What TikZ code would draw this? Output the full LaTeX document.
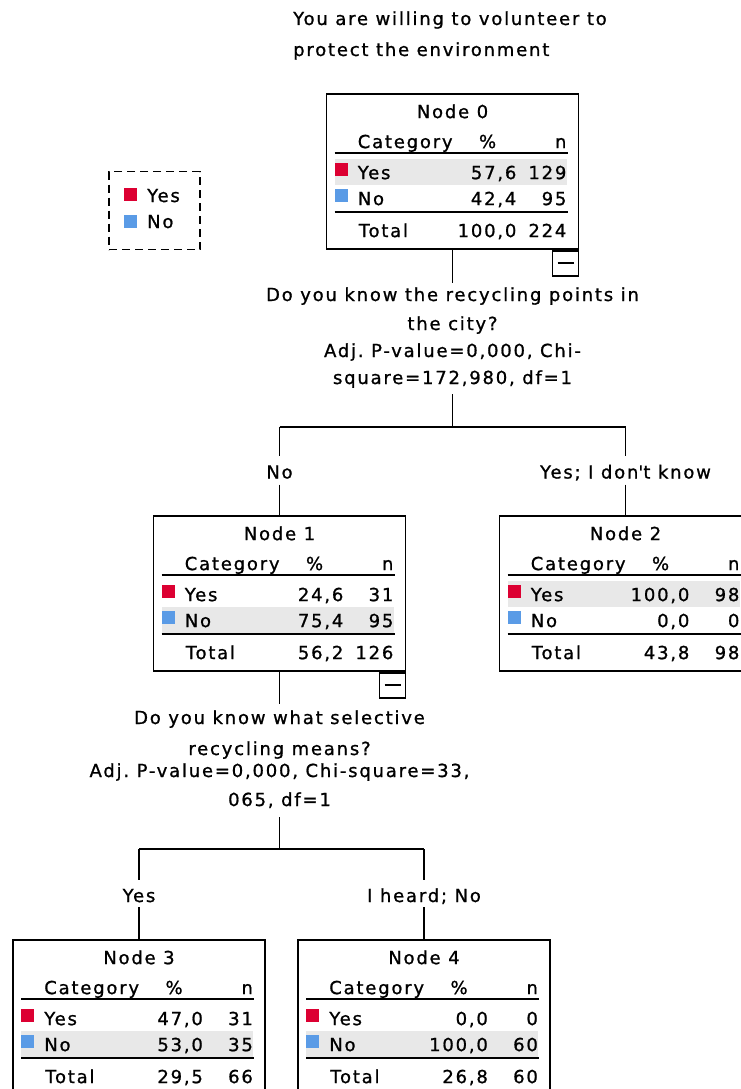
\documentclass[tikz,border=0pt]{standalone}
\usepackage{fontspec}
\setmainfont{DejaVu Sans}[LetterSpace=10,FakeBold=1]
\usetikzlibrary{calc}
\frenchspacing
\definecolor{spssred}{HTML}{DC0032}
\definecolor{spssblue}{HTML}{5A9BE6}
\definecolor{rowgray}{HTML}{E8E8E8}
\tikzset{
  txt/.style={inner sep=0pt, font=\fontsize{18}{21}\selectfont\frenchspacing},
  qtxt/.style={txt, text height=13pt, text depth=4pt, anchor=base},
  box/.style={draw, line width=1.8pt, minimum width=252pt, minimum height=155pt, inner sep=0pt},
  minusbox/.style={draw, line width=1.8pt, minimum width=26pt, minimum height=25pt, inner sep=0pt},
  legendbox/.style={draw, line width=1.8pt, dash pattern=on 8pt off 5pt, minimum width=91pt, minimum height=78pt, inner sep=0pt},
  rule/.style={line width=1.8pt},
  conn/.style={line width=1.8pt},
  sq/.style={inner sep=0pt, minimum size=13pt},
}
\newcommand\tnode[5]{%
  \node[box] (#1) at (#2,#3+77.5) {};
  \ifnum#5=1
    \fill[rowgray] ($(#1.north west)+(9,66)$) rectangle ($(#1.north west)+(241,92)$);
  \else
    \fill[rowgray] ($(#1.north west)+(9,92)$) rectangle ($(#1.north west)+(241,118)$);
  \fi
  \node[txt,anchor=base] (#1-title) at ($(#1.north)+(0,25)$) {#4};
  \node[txt,anchor=base west] (#1-cat) at ($(#1.north west)+(32,55)$) {Category};
  \node[txt,anchor=base] (#1-pct) at ($(#1.north west)+(162,55)$) {\%};
  \node[txt,anchor=base east] (#1-n) at ($(#1.north west)+(241,55)$) {n};
  \draw[rule] ($(#1.north west)+(9,60)$) -- ($(#1.north west)+(242,60)$);
  \draw[rule] ($(#1.north west)+(9,119)$) -- ($(#1.north west)+(242,119)$);
  \node[sq,fill=spssred,anchor=north west] (#1-rsq) at ($(#1.north west)+(9,70)$) {};
  \node[sq,fill=spssblue,anchor=north west] (#1-bsq) at ($(#1.north west)+(9,96)$) {};
  \node[txt,anchor=base west] (#1-yes) at ($(#1.north west)+(32,86)$) {Yes};
  \node[txt,anchor=base west] (#1-no) at ($(#1.north west)+(32,112)$) {No};
  \node[txt,anchor=base west] (#1-tot) at ($(#1.north west)+(33,144)$) {Total};
}
\newcommand\tvals[7]{%
  \node[txt,anchor=base east] (#1-yp) at ($(#1.north west)+(191,86)$) {#2};
  \node[txt,anchor=base east] (#1-yn) at ($(#1.north west)+(241,86)$) {#3};
  \node[txt,anchor=base east] (#1-np) at ($(#1.north west)+(191,112)$) {#4};
  \node[txt,anchor=base east] (#1-nn) at ($(#1.north west)+(241,112)$) {#5};
  \node[txt,anchor=base east] (#1-tp) at ($(#1.north west)+(191,144)$) {#6};
  \node[txt,anchor=base east] (#1-tn) at ($(#1.north west)+(241,144)$) {#7};
}
\newcommand\tminus[1]{%
  \node[minusbox,anchor=north east] (#1-mb) at (#1.south east) {};
  \draw[line width=1.8pt] ($(#1-mb.center)+(-8,0)$) -- ($(#1-mb.center)+(8,0)$);
}
\begin{document}
\begin{tikzpicture}[x=1pt,y=-1pt]
\useasboundingbox (0,0) rectangle (740,1089);
\fill[white] (0,0) rectangle (740,1089);

% title
\node[txt,anchor=base west] (t1) at (293,25) {You are willing to volunteer to};
\node[txt,anchor=base west] (t2) at (293,56) {protect the environment};

% legend
\node[legendbox] (lg) at (154.7,210.5) {};
\node[sq,fill=spssred,anchor=north west] (lgr) at (124,188) {};
\node[sq,fill=spssblue,anchor=north west] (lgb) at (124,215) {};
\node[txt,anchor=base west] (lgy) at (147,202) {Yes};
\node[txt,anchor=base west] (lgn) at (147,228) {No};

% nodes
\tnode{n0}{452.5}{94}{Node 0}{1}
\tvals{n0}{57,6}{129}{42,4}{95}{100,0}{224}
\tminus{n0}
\tnode{n1}{279.5}{516}{Node 1}{2}
\tvals{n1}{24,6}{31}{75,4}{95}{56,2}{126}
\tminus{n1}
\tnode{n2}{625.5}{516}{Node 2}{1}
\tvals{n2}{100,0}{98}{0,0}{0}{43,8}{98}
\tnode{n3}{139}{940}{Node 3}{2}
\tvals{n3}{47,0}{31}{53,0}{35}{29,5}{66}
\tnode{n4}{424}{940}{Node 4}{2}
\tvals{n4}{0,0}{0}{100,0}{60}{26,8}{60}

% split 1
\node[qtxt] (q1a) at (452.5,301) {Do you know the recycling points in};
\node[qtxt] (q1b) at (452.5,330) {the city?};
\node[qtxt] (q1c) at (452.5,357) {Adj. P-value=0,000, Chi-};
\node[qtxt] (q1d) at (452.5,384) {square=172,980, df=1};
\coordinate (j0) at (452.5,427);
\coordinate (jl) at (n1.north |- j0);
\coordinate (jr) at (n2.north |- j0);
\node[qtxt] (l1) at (279.5,478.5) {No};
\node[qtxt] (l2) at (625.5,478.5) {Yes; I don\textquotesingle t know};
\draw[conn, shorten >=5pt] (n0.south) -- (q1a.north);
\draw[conn, shorten <=6pt] (q1d.south) -- (j0);
\draw[conn] (jl) -- (jr);
\draw[conn, shorten >=9pt] (jl) -- (l1.north);
\draw[conn, shorten <=2pt] (l1.south) -- (n1.north);
\draw[conn, shorten >=9pt] (jr) -- (l2.north);
\draw[conn, shorten <=2pt] (l2.south) -- (n2.north);

% split 2
\node[qtxt] (q2a) at (279.5,724) {Do you know what selective};
\node[qtxt] (q2b) at (279.5,755) {recycling means?};
\node[qtxt] (q2c) at (279.5,777) {Adj. P-value=0,000, Chi-square=33,};
\node[qtxt] (q2d) at (279.5,806) {065, df=1};
\coordinate (j1) at (279.5,849);
\coordinate (jl2) at (n3.north |- j1);
\coordinate (jr2) at (n4.north |- j1);
\node[qtxt] (l3) at (139,902) {Yes};
\node[qtxt] (l4) at (424,902) {I heard; No};
\draw[conn, shorten >=7pt] (n1.south) -- (q2a.north);
\draw[conn, shorten <=7pt] (q2d.south) -- (j1);
\draw[conn] (jl2) -- (jr2);
\draw[conn, shorten >=9pt] (jl2) -- (l3.north);
\draw[conn, shorten <=1pt] (l3.south) -- (n3.north);
\draw[conn, shorten >=9pt] (jr2) -- (l4.north);
\draw[conn, shorten <=1pt] (l4.south) -- (n4.north);
\end{tikzpicture}
\end{document}
